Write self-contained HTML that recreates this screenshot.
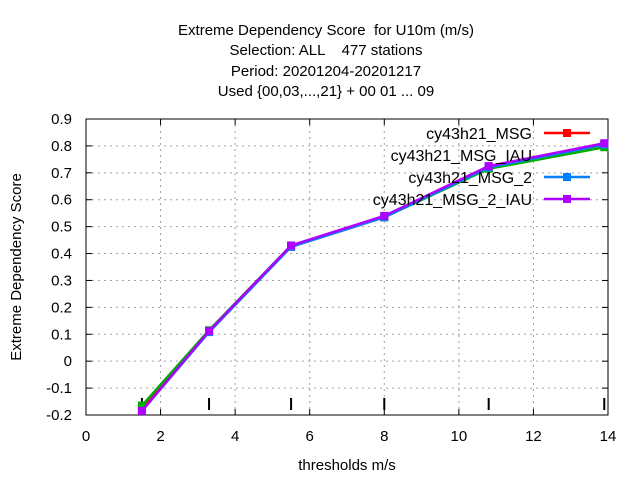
<!DOCTYPE html>
<html><head><meta charset="utf-8"><style>
body{margin:0;background:#fff}
svg{font-family:"Liberation Sans",sans-serif;font-size:15px}
text{white-space:pre}
</style></head><body>
<svg id="chart" width="640" height="480">
<g text-anchor="middle" font-size="15">
<text x="326" y="35">Extreme Dependency Score  for U10m (m/s)</text>
<text x="326" y="55">Selection: ALL    477 stations</text>
<text x="326" y="76">Period: 20201204-20201217</text>
<text x="326" y="96">Used {00,03,...,21} + 00 01 ... 09</text>
</g>
<g id="grid"></g>
<g id="axes"></g>
<text x="347" y="470" text-anchor="middle">thresholds m/s</text>
<text transform="translate(21,267) rotate(-90)" text-anchor="middle">Extreme Dependency Score</text>
<g id="series"></g>
<g id="legend"></g>
</svg>
<script>
const thresholds=[1.5,3.3,5.5,8,10.8,13.9];
const msg=[-0.17,0.11,0.425,0.535,0.72,0.805];
const msgIau=[-0.165,0.115,0.43,0.535,0.715,0.795];
const msg2=[-0.185,0.108,0.425,0.535,0.72,0.805];
const msg2Iau=[-0.185,0.112,0.43,0.54,0.725,0.81];
const seriesNames=["cy43h21_MSG","cy43h21_MSG_IAU","cy43h21_MSG_2","cy43h21_MSG_2_IAU"];
const xTicks=[0,2,4,6,8,10,12,14];
const yTicks=[-0.2,-0.1,0,0.1,0.2,0.3,0.4,0.5,0.6,0.7,0.8,0.9];

const L=86,R=608,T=119,B=415,xmin=0,xmax=14,ymin=-0.2,ymax=0.9;
const X=v=>L+(v-xmin)/(xmax-xmin)*(R-L);
const Y=v=>B-(v-ymin)/(ymax-ymin)*(B-T);
const NS="http://www.w3.org/2000/svg";
function mk(tag,attrs,parent){const e=document.createElementNS(NS,tag);for(const k in attrs)e.setAttribute(k,attrs[k]);parent.appendChild(e);return e;}
const grid=document.getElementById('grid'),axes=document.getElementById('axes');
xTicks.forEach(t=>{
  if(t>xmin&&t<xmax){const g=mk('line',{x1:X(t),x2:X(t),y1:T,y2:B,stroke:'#a0a0a0','stroke-dasharray':'2,4'},grid);
  
  }
  mk('line',{x1:X(t),x2:X(t),y1:B,y2:B-6,stroke:'#000'},axes);
  mk('line',{x1:X(t),x2:X(t),y1:T,y2:T+6,stroke:'#000'},axes);
  const tx=mk('text',{x:X(t),y:B+26,'text-anchor':'middle'},axes);tx.textContent=t;
  
  
});
yTicks.forEach(t=>{
  if(t>ymin+1e-9&&t<ymax-1e-9){const g=mk('line',{x1:L,x2:R,y1:Y(t),y2:Y(t),stroke:'#a0a0a0','stroke-dasharray':'2,4'},grid);
  
  }
  mk('line',{x1:L,x2:L+6,y1:Y(t),y2:Y(t),stroke:'#000'},axes);
  mk('line',{x1:R,x2:R-6,y1:Y(t),y2:Y(t),stroke:'#000'},axes);
  const tx=mk('text',{x:L-14,y:Y(t)+5,'text-anchor':'end'},axes);tx.textContent=(Math.round(t*10)/10).toString();
  
  
});
thresholds.forEach(t=>{const m=mk('line',{x1:X(t),x2:X(t),y1:B-17,y2:B-5,stroke:'#000','stroke-width':2},axes);
  
  });
mk('rect',{x:L,y:T,width:R-L,height:B-T,fill:'none',stroke:'#000'},axes);

const sdata=[msg,msgIau,msg2,msg2Iau];
const colors=['#ff0000','#00b000','#0080ff','#b000ff'];
const sg=document.getElementById('series');
sdata.forEach((d,i)=>{
  const g=mk('g',{},sg);
  
  
  const pts=d.map((v,j)=>X(thresholds[j])+','+Y(v)).join(' ');
  mk('polyline',{points:pts,fill:'none',stroke:colors[i],'stroke-width':2.5},g);
  d.forEach((v,j)=>{const p=mk('rect',{x:X(thresholds[j])-4,y:Y(v)-4,width:8,height:8,fill:colors[i]},g);
    
    });
});
const lg=document.getElementById('legend');
seriesNames.forEach((n,i)=>{
  const y=133+i*22;
  const t=mk('text',{x:532,y:y+6,'text-anchor':'end','font-size':'16'},lg);t.textContent=n;
  
  
  if(i!==1){
    mk('line',{x1:544,x2:590,y1:y,y2:y,stroke:colors[i],'stroke-width':2.5},lg);
    mk('rect',{x:563,y:y-4,width:8,height:8,fill:colors[i]},lg);
  }
});
</script>
</body></html>
